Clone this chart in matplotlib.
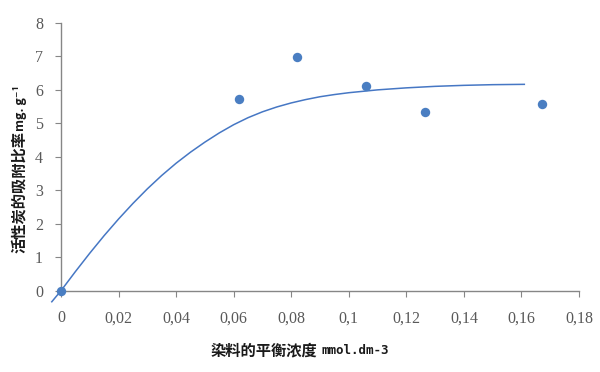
import matplotlib
matplotlib.use("Agg")
import matplotlib.pyplot as plt
from matplotlib.ticker import FuncFormatter

plt.rcParams['font.family'] = ['Noto Sans CJK SC', 'DejaVu Sans']

# measured points
conc = [0.0, 0.062, 0.082, 0.106, 0.1265, 0.167]
ratio = [0.0, 5.73, 6.97, 6.11, 5.32, 5.57]

# trend line
trend_x = [-0.0032, 0.0, 0.005, 0.01, 0.015, 0.02, 0.025, 0.03, 0.035, 0.04,
           0.045, 0.05, 0.055, 0.06, 0.065, 0.07, 0.075, 0.08, 0.085, 0.09,
           0.095, 0.1, 0.11, 0.12, 0.13, 0.14, 0.15, 0.161]
trend_y = [-0.33, 0.0, 0.57, 1.12, 1.645, 2.14, 2.605, 3.04, 3.44, 3.805,
           4.135, 4.435, 4.71, 4.955, 5.165, 5.34, 5.485, 5.605, 5.705, 5.79,
           5.855, 5.91, 5.995, 6.055, 6.10, 6.13, 6.15, 6.16]

xticks = [0, 0.02, 0.04, 0.06, 0.08, 0.1, 0.12, 0.14, 0.16, 0.18]
yticks = [0, 1, 2, 3, 4, 5, 6, 7, 8]

blue = '#4A7EC2'
grey = '#868686'
W, H = 600, 372

fig = plt.figure(figsize=(6, 3.72), dpi=100)
ax = fig.add_axes([61 / W, 1 - 290.7 / H, 518 / W, 268 / H])

ax.plot(trend_x, trend_y, color='#4677C4', lw=1.1, clip_on=False, zorder=2)
ax.scatter(conc, ratio, s=46, color=blue, zorder=3, clip_on=False, linewidths=0)

ax.set_xlim(0, 0.18)
ax.set_ylim(0, 8)
ax.set_xticks(xticks)
ax.set_yticks(yticks)

def fmt(v, pos):
    s = ('%.2f' % v).rstrip('0').rstrip('.')
    return s.replace('.', ',')

ax.xaxis.set_major_formatter(FuncFormatter(fmt))

for side in ['top', 'right']:
    ax.spines[side].set_visible(False)
for side in ['left', 'bottom']:
    ax.spines[side].set_color(grey)
    ax.spines[side].set_linewidth(1.0)

ax.tick_params(axis='x', direction='out', length=4, color=grey, pad=10,
               labelcolor='#595959')
ax.tick_params(axis='y', direction='out', length=4, color=grey, pad=9,
               labelcolor='#595959')
for lab in ax.get_xticklabels() + ax.get_yticklabels():
    lab.set_family(['Liberation Serif', 'DejaVu Serif'])
    lab.set_fontsize(11.5)

cjk = ['Noto Sans CJK SC', 'DejaVu Sans']
mono = ['DejaVu Sans Mono', 'Noto Sans CJK SC']

# x axis title
fig.text(317 / W, 1 - 350 / H, '染料的平衡浓度', family=cjk, fontsize=11,
         fontweight='bold', color='#1a1a1a', ha='right', va='center')
fig.text(322 / W, 1 - 350 / H, 'mmol.dm-3', family=mono, fontsize=9,
         fontweight='bold', color='#1a1a1a', ha='left', va='center')

# y axis title
fig.text(19 / W, 1 - 253 / H, '活性炭的吸附比率', family=cjk, fontsize=11,
         fontweight='bold', color='#1a1a1a', rotation=90, ha='center', va='bottom')
fig.text(20 / W, 1 - 131 / H, 'mg. g⁻¹', family=cjk, fontsize=9,
         fontweight='bold', color='#1a1a1a', rotation=90, ha='center', va='bottom')

fig.savefig('out.png', dpi=100)
